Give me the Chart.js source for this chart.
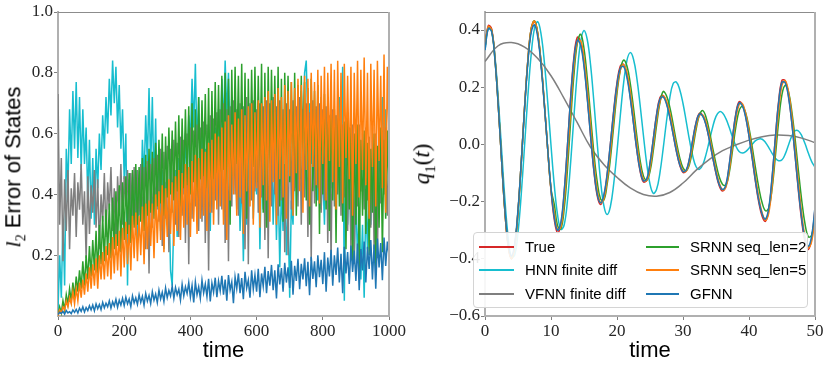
<!DOCTYPE html>
<html><head><meta charset="utf-8">
<script src="https://cdn.jsdelivr.net/npm/chart.js@4.4.1/dist/chart.umd.min.js"></script>
<style>
html,body{margin:0;padding:0;background:#fff;}
#wrap{position:relative;width:830px;height:369px;overflow:hidden;background:#fff;}
canvas{position:absolute;top:0;}
#c1{left:0;width:410px;height:369px;}
#c2{left:410px;width:420px;height:369px;}
.ytitle{position:absolute;white-space:nowrap;transform:translate(-50%,-50%) rotate(-90deg);color:#000;line-height:1;}
#legend{position:absolute;left:473px;top:232px;width:333px;height:74px;border:1px solid #d4d4d4;border-radius:4px;background:rgba(255,255,255,0.9);font:15px 'Liberation Sans',sans-serif;color:#000;}
.li{position:absolute;height:20px;}
.li .h{position:absolute;top:9px;height:2px;}
.li .t{position:absolute;top:1px;white-space:nowrap;}
</style></head><body>
<div id="wrap">
<canvas id="c1" width="410" height="369"></canvas>
<canvas id="c2" width="420" height="369"></canvas>
<div class="ytitle" style="left:15px;top:167px;font:22px 'Liberation Sans',sans-serif;"><span style="font-family:'Liberation Serif',serif;font-style:italic;">l</span><sub style="font-size:14px;font-family:'Liberation Serif',serif;">2</sub> Error of States</div>
<div class="ytitle" style="left:424px;top:164px;font:italic 23px 'Liberation Serif',serif;">q<sub style="font-size:15px;font-style:normal;">1</sub><span style="font-style:normal;">(</span>t<span style="font-style:normal;">)</span></div>
<div id="legend"></div>
</div>
<script>
// ---------- series names and colours ----------
const seriesNames = ['True','HNN finite diff','VFNN finite diff','SRNN seq_len=2','SRNN seq_len=5','GFNN'];
const seriesColors = ['#d62728','#17becf','#7f7f7f','#2ca02c','#ff7f0e','#1f77b4'];

// ---------- left panel: l2 error of states, sampled every 5 time units (t = 0..1000) ----------
const leftStep = 5;
const hnnError = [
0.02,0.20,0.06,0.32,0.10,0.55,0.42,0.68,0.50,0.74,
0.55,0.77,0.52,0.72,0.48,0.68,0.50,0.62,0.38,0.58,
0.32,0.52,0.30,0.55,0.42,0.60,0.48,0.66,0.55,0.72,
0.60,0.78,0.66,0.84,0.70,0.82,0.62,0.76,0.55,0.68,
0.45,0.60,0.10,0.45,0.25,0.40,0.30,0.48,0.24,0.42,
0.35,0.58,0.45,0.66,0.50,0.75,0.48,0.72,0.42,0.65,
0.35,0.55,0.28,0.48,0.22,0.44,0.30,0.40,0.15,0.10,
0.32,0.48,0.26,0.52,0.35,0.55,0.40,0.60,0.45,0.66,
0.58,0.78,0.62,0.83,0.55,0.72,0.45,0.62,0.38,0.55,
0.32,0.50,0.28,0.58,0.35,0.62,0.42,0.68,0.55,0.78,
0.62,0.84,0.66,0.80,0.58,0.72,0.45,0.60,0.35,0.55,
0.28,0.48,0.18,0.45,0.30,0.55,0.38,0.62,0.32,0.50,
0.40,0.60,0.22,0.52,0.35,0.65,0.45,0.70,0.38,0.58,
0.30,0.52,0.25,0.46,0.16,0.42,0.28,0.50,0.20,0.35,
0.06,0.38,0.30,0.55,0.42,0.65,0.52,0.74,0.60,0.80,
0.84,0.62,0.70,0.50,0.60,0.45,0.55,0.38,0.52,0.35,
0.48,0.30,0.55,0.36,0.62,0.42,0.58,0.46,0.66,0.52,
0.72,0.55,0.82,0.05,0.60,0.30,0.52,0.25,0.45,0.20,
0.40,0.18,0.35,0.12,0.30,0.06,0.38,0.22,0.45,0.30,
0.52,0.36,0.58,0.42,0.64,0.50,0.72,0.55,0.68,0.52,
0.60];
const vfnnError = [
0.73,0.30,0.52,0.18,0.45,0.28,0.48,0.22,0.42,0.33,
0.47,0.26,0.44,0.35,0.50,0.30,0.41,0.19,0.46,0.27,
0.43,0.34,0.48,0.29,0.45,0.22,0.40,0.31,0.47,0.26,
0.44,0.35,0.49,0.28,0.42,0.20,0.46,0.33,0.50,0.30,
0.46,0.36,0.48,0.25,0.47,0.31,0.49,0.27,0.48,0.33,
0.50,0.30,0.49,0.22,0.51,0.14,0.50,0.29,0.52,0.33,
0.53,0.31,0.55,0.23,0.54,0.32,0.56,0.21,0.55,0.34,
0.58,0.30,0.57,0.26,0.59,0.33,0.58,0.24,0.60,0.17,
0.62,0.32,0.61,0.36,0.63,0.28,0.62,0.31,0.64,0.24,
0.63,0.15,0.66,0.34,0.65,0.38,0.67,0.30,0.68,0.35,
0.70,0.24,0.68,0.18,0.69,0.36,0.71,0.40,0.68,0.33,
0.70,0.37,0.69,0.22,0.72,0.17,0.70,0.38,0.71,0.41,
0.68,0.34,0.70,0.39,0.69,0.25,0.71,0.19,0.70,0.36,
0.72,0.40,0.69,0.33,0.71,0.38,0.68,0.21,0.70,0.20,
0.68,0.35,0.71,0.41,0.69,0.36,0.72,0.30,0.68,0.39,
0.70,0.26,0.67,0.18,0.71,0.37,0.69,0.42,0.70,0.34,
0.68,0.38,0.69,0.24,0.66,0.17,0.68,0.36,0.66,0.40,
0.65,0.33,0.63,0.39,0.64,0.28,0.62,0.21,0.63,0.17,
0.61,0.36,0.63,0.41,0.60,0.35,0.62,0.38,0.59,0.29,
0.62,0.22,0.60,0.19,0.63,0.37,0.61,0.40,0.62,0.33,
0.50];
const srnn2Error = [
0.00,0.03,0.01,0.05,0.02,0.07,0.04,0.09,0.05,0.11,
0.06,0.13,0.08,0.15,0.09,0.18,0.10,0.20,0.12,0.23,
0.13,0.25,0.15,0.28,0.14,0.30,0.17,0.33,0.18,0.35,
0.20,0.37,0.19,0.39,0.22,0.41,0.23,0.43,0.21,0.44,
0.25,0.46,0.27,0.47,0.24,0.48,0.29,0.50,0.30,0.49,
0.31,0.52,0.28,0.53,0.33,0.55,0.34,0.54,0.32,0.57,
0.36,0.58,0.37,0.60,0.33,0.59,0.39,0.62,0.40,0.61,
0.38,0.64,0.41,0.66,0.36,0.65,0.42,0.68,0.43,0.69,
0.40,0.70,0.44,0.68,0.38,0.72,0.45,0.71,0.46,0.73,
0.42,0.75,0.36,0.74,0.45,0.77,0.47,0.76,0.44,0.79,
0.48,0.80,0.35,0.78,0.30,0.81,0.46,0.82,0.50,0.79,
0.47,0.83,0.42,0.80,0.32,0.78,0.45,0.81,0.49,0.82,
0.44,0.79,0.48,0.83,0.34,0.80,0.29,0.82,0.46,0.81,
0.50,0.79,0.43,0.82,0.36,0.78,0.31,0.80,0.47,0.79,
0.44,0.77,0.40,0.80,0.33,0.76,0.45,0.79,0.42,0.77,
0.38,0.75,0.30,0.78,0.41,0.74,0.36,0.76,0.27,0.72,
0.40,0.73,0.35,0.70,0.28,0.71,0.38,0.68,0.24,0.66,
0.36,0.69,0.31,0.64,0.22,0.67,0.35,0.62,0.18,0.60,
0.30,0.63,0.15,0.58,0.33,0.61,0.27,0.57,0.20,0.55,
0.34,0.60,0.16,0.56,0.29,0.62,0.21,0.58,0.32,0.61,
0.38];
const srnn5Error = [
0.00,0.02,0.01,0.03,0.02,0.05,0.03,0.06,0.04,0.08,
0.04,0.09,0.05,0.11,0.06,0.12,0.07,0.14,0.08,0.16,
0.09,0.17,0.10,0.19,0.09,0.20,0.12,0.21,0.12,0.23,
0.13,0.24,0.12,0.26,0.14,0.27,0.15,0.28,0.13,0.29,
0.16,0.31,0.17,0.30,0.15,0.33,0.19,0.34,0.18,0.33,
0.20,0.36,0.17,0.37,0.22,0.38,0.23,0.37,0.19,0.40,
0.24,0.41,0.25,0.43,0.21,0.42,0.26,0.45,0.27,0.44,
0.23,0.46,0.28,0.48,0.25,0.47,0.29,0.50,0.30,0.49,
0.26,0.51,0.31,0.53,0.27,0.52,0.32,0.55,0.33,0.54,
0.28,0.57,0.34,0.58,0.30,0.60,0.35,0.59,0.36,0.62,
0.30,0.64,0.25,0.66,0.38,0.63,0.40,0.67,0.33,0.65,
0.39,0.68,0.27,0.66,0.41,0.69,0.36,0.70,0.30,0.67,
0.42,0.71,0.29,0.70,0.43,0.72,0.38,0.74,0.31,0.71,
0.44,0.73,0.30,0.75,0.45,0.72,0.39,0.76,0.32,0.74,
0.46,0.77,0.33,0.75,0.47,0.78,0.41,0.76,0.34,0.79,
0.48,0.78,0.36,0.80,0.49,0.77,0.43,0.81,0.37,0.79,
0.50,0.82,0.38,0.80,0.51,0.83,0.44,0.81,0.35,0.84,
0.49,0.80,0.37,0.83,0.52,0.79,0.45,0.82,0.33,0.80,
0.50,0.84,0.39,0.81,0.48,0.85,0.43,0.80,0.32,0.83,
0.49,0.81,0.36,0.84,0.51,0.79,0.42,0.86,0.34,0.82,
0.60];
const gfnnError = [
0.005,0.012,0.008,0.015,0.006,0.018,0.010,0.014,0.008,0.020,
0.012,0.022,0.010,0.026,0.015,0.030,0.013,0.028,0.018,0.034,
0.020,0.036,0.017,0.040,0.024,0.038,0.021,0.045,0.027,0.042,
0.030,0.050,0.026,0.047,0.033,0.055,0.029,0.052,0.036,0.058,
0.034,0.062,0.040,0.056,0.031,0.066,0.043,0.060,0.038,0.070,
0.045,0.065,0.036,0.074,0.049,0.068,0.041,0.080,0.052,0.072,
0.044,0.085,0.056,0.078,0.048,0.092,0.060,0.084,0.066,0.098,
0.058,0.094,0.070,0.088,0.052,0.104,0.066,0.096,0.074,0.110,
0.062,0.100,0.045,0.112,0.070,0.096,0.058,0.118,0.076,0.105,
0.064,0.122,0.048,0.108,0.078,0.126,0.062,0.115,0.082,0.132,
0.070,0.120,0.050,0.135,0.085,0.112,0.042,0.128,0.090,0.140,
0.075,0.125,0.055,0.145,0.092,0.118,0.060,0.150,0.088,0.135,
0.080,0.155,0.062,0.140,0.098,0.162,0.075,0.148,0.100,0.168,
0.085,0.150,0.058,0.170,0.104,0.158,0.080,0.175,0.110,0.160,
0.092,0.182,0.070,0.165,0.115,0.188,0.088,0.172,0.120,0.190,
0.098,0.178,0.068,0.195,0.122,0.180,0.095,0.200,0.128,0.185,
0.105,0.210,0.080,0.192,0.130,0.218,0.100,0.200,0.135,0.225,
0.110,0.205,0.075,0.228,0.140,0.210,0.105,0.232,0.145,0.215,
0.115,0.238,0.085,0.220,0.150,0.245,0.110,0.228,0.155,0.250,
0.120,0.235,0.090,0.255,0.160,0.240,0.118,0.258,0.165,0.245,
0.200];
const leftXTicks = [0,200,400,600,800,1000];
const leftYTicks = [0.2,0.4,0.6,0.8,1.0];

// ---------- right panel: q1(t), sampled every 0.5 time units (t = 0..50) ----------
const rightStep = 0.5;
const qTrue = [
0.34,0.415,0.405,0.304,0.142,-0.05,-0.229,-0.355,-0.40,-0.356,
-0.235,-0.061,0.13,0.296,0.404,0.43,0.385,0.282,0.139,-0.017,
-0.16,-0.263,-0.309,-0.28,-0.168,-0.003,0.173,0.311,0.375,0.357,
0.281,0.164,0.03,-0.093,-0.179,-0.21,-0.183,-0.107,0.002,0.118,
0.216,0.274,0.28,0.242,0.168,0.075,-0.019,-0.093,-0.131,-0.125,
-0.068,0.019,0.106,0.163,0.171,0.145,0.097,0.037,-0.024,-0.072,
-0.098,-0.092,-0.048,0.019,0.079,0.109,0.101,0.068,0.015,-0.045,
-0.102,-0.145,-0.163,-0.145,-0.074,0.022,0.107,0.149,0.139,0.097,
0.03,-0.051,-0.134,-0.204,-0.252,-0.269,-0.228,-0.118,0.025,0.153,
0.224,0.222,0.168,0.074,-0.043,-0.165,-0.27,-0.342,-0.367,-0.329,
-0.227];
const qHNN = [
0.33,0.405,0.395,0.31,0.164,-0.013,-0.187,-0.323,-0.394,-0.387,
-0.308,-0.172,-0.002,0.17,0.315,0.406,0.429,0.385,0.286,0.148,
-0.003,-0.143,-0.247,-0.297,-0.281,-0.195,-0.056,0.106,0.256,0.36,
0.398,0.366,0.277,0.148,0.005,-0.124,-0.213,-0.245,-0.217,-0.138,
-0.025,0.101,0.214,0.293,0.321,0.298,0.233,0.138,0.032,-0.067,
-0.139,-0.171,-0.157,-0.10,-0.014,0.081,0.163,0.212,0.218,0.192,
0.143,0.079,0.013,-0.043,-0.079,-0.087,-0.071,-0.034,0.0135,0.061,
0.098,0.114,0.11,0.09,0.06,0.025,-0.005,-0.025,-0.03,-0.025,
-0.013,0.001,0.013,0.019,0.018,0.007,-0.011,-0.031,-0.048,-0.057,
-0.054,-0.033,-0.001,0.03,0.048,0.047,0.03,0.002,-0.031,-0.06,
-0.08];
const qSRNN2 = [
0.34,0.41,0.40,0.30,0.14,-0.05,-0.23,-0.35,-0.40,-0.355,
-0.235,-0.06,0.13,0.295,0.405,0.432,0.388,0.285,0.142,-0.015,
-0.155,-0.21,-0.285,-0.295,-0.225,-0.085,0.09,0.25,0.355,0.385,
0.335,0.23,0.10,-0.03,-0.13,-0.19,-0.195,-0.14,-0.05,0.065,
0.178,0.26,0.295,0.275,0.215,0.128,0.03,-0.055,-0.11,-0.126,
-0.095,-0.022,0.068,0.145,0.185,0.17,0.13,0.072,0.008,-0.046,
-0.082,-0.092,-0.068,-0.012,0.054,0.104,0.118,0.094,0.046,-0.013,
-0.068,-0.114,-0.14,-0.142,-0.10,-0.022,0.06,0.118,0.133,0.11,
0.058,-0.01,-0.085,-0.153,-0.205,-0.232,-0.222,-0.155,-0.04,0.082,
0.175,0.207,0.183,0.113,0.016,-0.095,-0.198,-0.28,-0.323,-0.318,
-0.255];
const qSRNN5 = [
0.34,0.412,0.40,0.302,0.14,-0.05,-0.229,-0.353,-0.40,-0.356,
-0.235,-0.061,0.13,0.295,0.404,0.431,0.386,0.283,0.14,-0.016,
-0.158,-0.238,-0.298,-0.288,-0.196,-0.045,0.129,0.277,0.359,0.362,
0.30,0.194,0.064,-0.063,-0.158,-0.203,-0.19,-0.126,-0.026,0.089,
0.192,0.26,0.279,0.252,0.187,0.099,0.005,-0.075,-0.122,-0.127,
-0.083,-0.003,0.085,0.149,0.169,0.152,0.109,0.052,-0.009,-0.06,
-0.092,-0.094,-0.059,0.002,0.064,0.102,0.103,0.077,0.029,-0.03,
-0.088,-0.135,-0.159,-0.15,-0.092,-0.002,0.086,0.139,0.142,0.108,
0.047,-0.031,-0.114,-0.187,-0.24,-0.265,-0.239,-0.146,-0.011,0.121,
0.207,0.223,0.182,0.098,-0.014,-0.135,-0.244,-0.324,-0.361,-0.339,
-0.253];
const qGFNN = [
0.33,0.405,0.395,0.298,0.138,-0.048,-0.222,-0.345,-0.39,-0.346,
-0.228,-0.06,0.126,0.287,0.392,0.418,0.374,0.274,0.135,-0.016,
-0.155,-0.255,-0.30,-0.272,-0.163,-0.003,0.168,0.302,0.364,0.346,
0.273,0.159,0.029,-0.09,-0.174,-0.204,-0.178,-0.104,0.002,0.114,
0.21,0.266,0.272,0.235,0.163,0.073,-0.018,-0.09,-0.127,-0.121,
-0.066,0.018,0.103,0.158,0.166,0.141,0.094,0.036,-0.023,-0.07,
-0.095,-0.089,-0.047,0.018,0.077,0.106,0.098,0.066,0.015,-0.044,
-0.099,-0.141,-0.158,-0.141,-0.072,0.021,0.104,0.145,0.135,0.094,
0.029,-0.049,-0.13,-0.198,-0.244,-0.261,-0.221,-0.114,0.024,0.148,
0.217,0.215,0.163,0.072,-0.042,-0.16,-0.262,-0.332,-0.356,-0.319,
-0.22];
// VFNN is a slow smooth curve, sampled every 2 time units
const vfnnStep = 2;
const qVFNN = [0.29,0.345,0.356,0.34,0.30,0.24,0.16,0.075,-0.01,-0.07,-0.115,-0.152,-0.175,
               -0.181,-0.168,-0.135,-0.09,-0.052,-0.022,-0.002,0.015,0.027,0.033,0.031,0.022,0.006];
const rightXTicks = [0,10,20,30,40,50];
const rightYTicks = [-0.6,-0.4,-0.2,0.0,0.2,0.4];

// ---------- helpers ----------
const toXY = (arr, step) => arr.map((v, i) => ({x: Math.round(i * step * 1000) / 1000, y: v}));
const fmt1 = v => { const r = Math.round(v * 10) / 10; return (r < 0 ? '\u2212' : '') + Math.abs(r).toFixed(1); };
const tickFont = {family: "'Liberation Serif', serif", size: 17};
const gridStyle = {display: true, drawOnChartArea: false, drawTicks: true, tickLength: 4, tickColor: '#7f7f7f', tickWidth: 1};
const borderStyle = {display: true, color: '#b0b0b0', width: 2};

const framePlugin = {
  id: 'frame',
  afterDraw(chart) {
    const {ctx, chartArea: a} = chart;
    ctx.save();
    ctx.strokeStyle = '#8c8c8c'; ctx.lineWidth = 1;
    ctx.beginPath(); ctx.moveTo(a.left, Math.round(a.top) + 0.5); ctx.lineTo(a.right, Math.round(a.top) + 0.5); ctx.stroke();
    ctx.strokeStyle = '#b0b0b0'; ctx.lineWidth = 2;
    ctx.beginPath(); ctx.moveTo(Math.round(a.right), a.top); ctx.lineTo(Math.round(a.right), a.bottom + 1); ctx.stroke();
    ctx.restore();
  }
};

function xScale(min, max, ticks) {
  return {
    type: 'linear', min, max,
    afterFit: s => { s.height = 53; },
    afterBuildTicks: s => { s.ticks = ticks.map(v => ({value: v})); },
    ticks: {font: tickFont, color: '#262626', padding: 1, maxRotation: 0, autoSkip: false, callback: v => String(v)},
    title: {display: true, text: 'time', font: {family: "'Liberation Sans', sans-serif", size: 22}, color: '#000', padding: {top: 0, bottom: 5}},
    grid: gridStyle, border: borderStyle
  };
}
function yScale(min, max, ticks, width) {
  return {
    type: 'linear', min, max,
    afterFit: s => { s.width = width; },
    afterBuildTicks: s => { s.ticks = ticks.map(v => ({value: v})); },
    ticks: {font: tickFont, color: '#262626', padding: 1, callback: v => fmt1(v)},
    grid: gridStyle, border: borderStyle
  };
}
const common = {
  responsive: false, animation: false, devicePixelRatio: 1,
  plugins: {legend: {display: false}, tooltip: {enabled: false}},
  elements: {point: {radius: 0}}
};

// ---------- left chart ----------
const leftSets = [
  {i: 1, arr: hnnError, order: 5},
  {i: 2, arr: vfnnError, order: 4},
  {i: 3, arr: srnn2Error, order: 3},
  {i: 4, arr: srnn5Error, order: 2},
  {i: 5, arr: gfnnError, order: 1}
];
new Chart(document.getElementById('c1'), {
  type: 'line',
  data: {datasets: leftSets.map(d => ({
    label: seriesNames[d.i], data: toXY(d.arr, leftStep), borderColor: seriesColors[d.i],
    borderWidth: 1.5, tension: 0, order: d.order, fill: false
  }))},
  options: Object.assign({}, common, {
    layout: {padding: {left: 0, right: 21, top: 12, bottom: 0}},
    scales: {x: xScale(0, 1000, leftXTicks), y: yScale(0, 1.0, leftYTicks, 58)}
  }),
  plugins: [framePlugin]
});

// ---------- right chart ----------
const rightSets = [
  {i: 0, data: toXY(qTrue, rightStep), order: 6},
  {i: 1, data: toXY(qHNN, rightStep), order: 5},
  {i: 2, data: toXY(qVFNN, vfnnStep), order: 4},
  {i: 3, data: toXY(qSRNN2, rightStep), order: 3},
  {i: 4, data: toXY(qSRNN5, rightStep), order: 2},
  {i: 5, data: toXY(qGFNN, rightStep), order: 1}
];
new Chart(document.getElementById('c2'), {
  type: 'line',
  data: {datasets: rightSets.map(d => ({
    label: seriesNames[d.i], data: d.data, borderColor: seriesColors[d.i],
    borderWidth: 1.5, tension: 0.4, order: d.order, fill: false
  }))},
  options: Object.assign({}, common, {
    layout: {padding: {left: 0, right: 15, top: 12, bottom: 0}},
    scales: {x: xScale(0, 50, rightXTicks), y: yScale(-0.6, 0.463, rightYTicks, 75)}
  }),
  plugins: [framePlugin]
});

// ---------- legend (two columns, three rows) ----------
const legend = document.getElementById('legend');
const colX = [{h: 5, w: 35, t: 51}, {h: 172, w: 33, t: 216}];
const rowY = [4, 27, 51];
seriesNames.forEach((name, k) => {
  const c = colX[Math.floor(k / 3)], r = rowY[k % 3];
  const item = document.createElement('div');
  item.className = 'li';
  item.style.left = '0px'; item.style.top = r + 'px'; item.style.width = '100%';
  const h = document.createElement('div');
  h.className = 'h';
  h.style.left = c.h + 'px'; h.style.width = c.w + 'px'; h.style.background = seriesColors[k];
  const t = document.createElement('div');
  t.className = 't'; t.style.left = c.t + 'px'; t.textContent = name;
  item.appendChild(h); item.appendChild(t);
  legend.appendChild(item);
});
</script>
</body></html>
